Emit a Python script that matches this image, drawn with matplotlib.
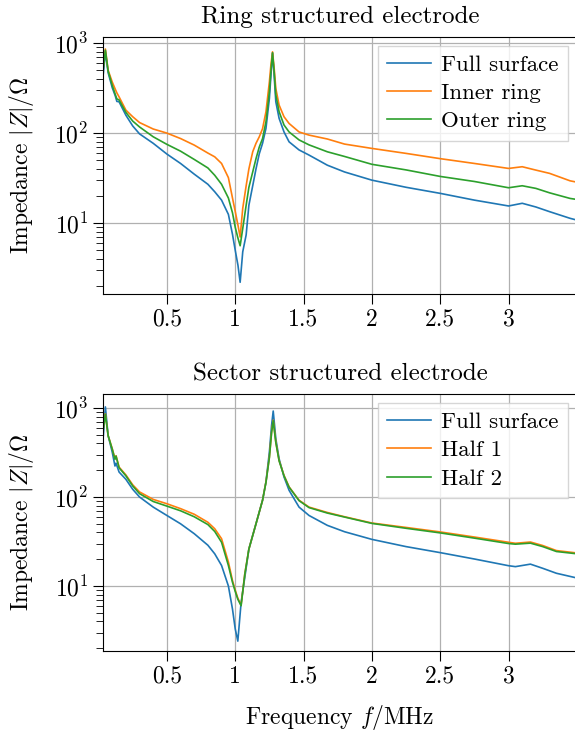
import matplotlib
matplotlib.use('Agg')
import matplotlib.pyplot as plt
from matplotlib.ticker import FixedLocator, FixedFormatter

plt.rcParams['font.family'] = 'serif'
plt.rcParams['font.serif'] = ['cmr10']
plt.rcParams['mathtext.fontset'] = 'cm'
plt.rcParams['axes.formatter.use_mathtext'] = True
plt.rcParams['axes.unicode_minus'] = False

# frequency in MHz, impedance in Ohm
f_ring = [0.035, 0.05, 0.07, 0.1, 0.122, 0.134, 0.15, 0.2, 0.25, 0.3,
          0.4, 0.5, 0.6, 0.7, 0.8, 0.85, 0.9, 0.95, 0.98, 1.0,
          1.02, 1.036, 1.055, 1.08, 1.1, 1.128, 1.152, 1.176, 1.2, 1.225,
          1.25, 1.261, 1.273, 1.285, 1.297, 1.321, 1.357, 1.394, 1.467, 1.54,
          1.674, 1.8, 2.0, 2.25, 2.5, 2.75, 3.0, 3.1, 3.2, 3.3,
          3.45, 3.5]
ring_full = [460, 800, 470, 320, 260, 225, 223, 158, 120, 98,
             77, 58.5, 46, 35, 27, 22.3, 18, 12.5, 7.5, 5.0,
             3.4, 2.2, 4.8, 7.4, 15.8, 26, 40, 59, 77, 113,
             243, 430, 780, 430, 223, 146, 103, 80, 65, 57,
             44, 37, 30, 25, 21.4, 18, 15.5, 16.6, 15.1, 13.4,
             11.3, 10.8]
ring_inner = [560, 860, 500, 370, 308, 280, 253, 180, 152, 131,
              111, 100, 87, 73.6, 60, 54.5, 46, 32, 19, 13.5,
              9.5, 7.0, 14.6, 26, 40, 62, 77, 91, 112, 173,
              372, 570, 800, 524, 313, 205, 152, 128, 103, 95,
              86, 75.5, 67.6, 59.5, 52, 46, 40.5, 42.3, 38.8, 35.7,
              29.5, 28.5]
ring_outer = [520, 835, 490, 340, 270, 240, 234, 170, 136, 117,
              91, 75, 63, 51, 41, 34, 27, 19, 13, 9.0,
              6.8, 5.6, 8.7, 15.8, 25, 37, 52, 70, 87, 134,
              288, 480, 780, 480, 265, 173, 123, 103, 84, 74,
              62, 55, 45, 39, 33, 29, 24.7, 26, 24.3, 21.7,
              18.8, 18.3]

f_sector = [0.035, 0.05, 0.07, 0.1, 0.12, 0.128, 0.15, 0.2, 0.25, 0.3,
            0.4, 0.5, 0.6, 0.7, 0.8, 0.85, 0.9, 0.95, 0.98, 1.0,
            1.019, 1.043, 1.07, 1.1, 1.152, 1.2, 1.225, 1.25, 1.266, 1.278,
            1.297, 1.321, 1.357, 1.394, 1.467, 1.54, 1.674, 1.8, 2.0, 2.25,
            2.5, 2.75, 3.0, 3.05, 3.16, 3.25, 3.35, 3.5]
sector_full = [490, 1030, 490, 320, 223, 240, 191, 158, 122, 100,
               77, 62, 50, 38.7, 28.7, 23, 17, 10, 5.5, 3.3,
               2.4, 6.5, 12.5, 26, 50, 92, 148, 321, 638, 925,
               452, 269, 168, 119, 77, 62, 48, 40.7, 33.4, 27.7,
               23.7, 20.1, 16.9, 16.5, 17.6, 15.8, 13.9, 12.3]
sector_half1 = [600, 860, 490, 350, 270, 291, 217, 177, 137, 114,
                94, 84, 74, 64, 52, 44, 34, 18.6, 11.5, 9,
                7.3, 6.1, 13.7, 26, 50, 92, 148, 282, 537, 730,
                415, 257, 175, 130, 92, 77, 67, 60, 51, 45.5,
                40.5, 35.5, 31, 30.2, 31.2, 28.5, 25, 23.5]
sector_half2 = [580, 850, 490, 345, 265, 288, 213, 173, 133, 109,
                89, 79, 70, 60, 49, 41, 31, 17, 11, 8.7,
                7.1, 6.0, 13.5, 26, 50, 92, 146, 278, 530, 720,
                410, 255, 173, 129, 91, 76, 66, 59.5, 50.5, 44.5,
                39.5, 34.5, 30, 29.5, 30.3, 27.7, 24.4, 23]

xticks = [0.5, 1, 1.5, 2, 2.5, 3]
xtick_labels = ['0.5', '1', '1.5', '2', '2.5', '3']

fs = 17
fig = plt.figure(figsize=(5.75, 7.35), dpi=100)
ax1 = fig.add_axes([0.179, 0.6, 0.8243, 0.3497])
ax2 = fig.add_axes([0.179, 0.1143, 0.8243, 0.3496])

panels = [
    (ax1, 'Ring structured electrode', f_ring,
     [ring_full, ring_inner, ring_outer],
     ['Full surface', 'Inner ring', 'Outer ring'], (1.63, 1170)),
    (ax2, 'Sector structured electrode', f_sector,
     [sector_full, sector_half1, sector_half2],
     ['Full surface', 'Half 1', 'Half 2'], (1.86, 1436)),
]

for ax, title, freq, series, labels, ylim in panels:
    for vals, lab, col in zip(series, labels, ['tab:blue', 'tab:orange', 'tab:green']):
        ax.plot(freq, vals, color=col, lw=1.2, label=lab)
    ax.set_yscale('log')
    ax.set_xlim(0.032, 3.5)
    ax.set_ylim(*ylim)
    ax.xaxis.set_major_locator(FixedLocator(xticks))
    ax.xaxis.set_major_formatter(FixedFormatter(xtick_labels))
    ax.grid(True, which='major', color='#b0b0b0', lw=0.9)
    ax.tick_params(which='major', length=7, labelsize=fs)
    ax.tick_params(which='minor', length=5)
    ax.set_title(title, fontsize=18, pad=10)
    ax.set_ylabel(r'Impedance $|Z|/\Omega$', fontsize=fs, labelpad=13)
    ax.legend(loc='upper right', fontsize=16.5, fancybox=False,
              edgecolor='#cccccc', borderaxespad=0.4,
              labelspacing=0.35, handlelength=1.9, handletextpad=0.45)

ax2.set_xlabel(r'Frequency $f/\mathrm{MHz}$', fontsize=fs, labelpad=11)

fig.savefig('out.png', dpi=100)
